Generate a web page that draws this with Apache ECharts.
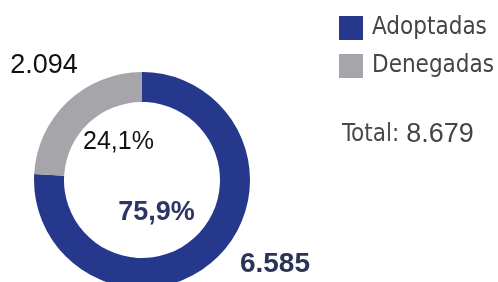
<!DOCTYPE html>
<html>
<head>
<meta charset="utf-8">
<script src="https://cdn.jsdelivr.net/npm/echarts@6/dist/echarts.min.js"></script>
<style>
  html, body { margin: 0; padding: 0; background: #fff; }
  #chart { width: 498px; height: 282px; }
</style>
</head>
<body>
<div id="chart"></div>
<script>
// data
const categories = ['Adoptadas', 'Denegadas'];
const values = [6585, 2094];
const colors = ['#25388c', '#a6a6aa'];

// label looks, one per category
const pctStyle = [
    { color: '#2d3466', fontWeight: 'bold', fontSize: 27, offset: [-15, 1] },
    { color: '#111111', fontWeight: 'normal', fontSize: 25, offset: [6, -7] }
];
const valStyle = [
    { color: '#2c3358', fontWeight: 'bold', fontSize: 28, offset: [25, -30] },
    { color: '#111111', fontWeight: 'normal', fontSize: 27, offset: [10, 0] }
];

const numFont = '"Liberation Sans", Arial, sans-serif';
const narrowFont = '"Liberation Sans Narrow", "DejaVu Sans Condensed", "Liberation Sans", sans-serif';

function fmtThousands(v) {
    return String(v).replace(/\B(?=(\d{3})+(?!\d))/g, '.');
}

const total = values.reduce((a, b) => a + b, 0);
const center = [142, 180];

const ringData = categories.map((name, i) => ({
    name: name,
    value: values[i],
    itemStyle: { color: colors[i] }
}));

const pctData = categories.map((name, i) => ({
    name: name,
    value: values[i],
    label: pctStyle[i]
}));

const valData = categories.map((name, i) => ({
    name: name,
    value: values[i],
    label: valStyle[i]
}));

const chart = echarts.init(document.getElementById('chart'));
const option = {
    animation: false,
    title: {
        text: '{a|Total: }{b|' + fmtThousands(total) + '}',
        left: 337,
        top: 114,
        textStyle: {
            fontWeight: 'normal',
            rich: {
                a: { fontFamily: narrowFont, fontSize: 24, fontWeight: 'normal', color: '#4a4a4a', lineHeight: 32 },
                b: { fontFamily: numFont, fontSize: 27, fontWeight: 'normal', color: '#444444', lineHeight: 32 }
            }
        }
    },
    legend: {
        orient: 'vertical',
        left: 339,
        top: 15,
        padding: 0,
        itemWidth: 24,
        itemHeight: 24,
        itemGap: 12,
        icon: 'rect',
        data: categories,
        selectedMode: false,
        textStyle: {
            fontFamily: narrowFont,
            fontSize: 24,
            lineHeight: 24,
            color: '#444444',
            padding: [2, 0, 0, 4]
        }
    },
    series: [
        {
            type: 'pie',
            center: center,
            radius: [78, 108],
            startAngle: 90,
            clockwise: true,
            silent: true,
            label: { show: false },
            labelLine: { show: false },
            data: ringData
        },
        {
            // percentages inside the hole
            type: 'pie',
            center: center,
            radius: [36, 44],
            startAngle: 90,
            silent: true,
            itemStyle: { color: 'rgba(0,0,0,0)' },
            label: {
                show: true,
                position: 'inside',
                fontFamily: numFont,
                formatter: p => p.percent.toFixed(1).replace('.', ',') + '%'
            },
            labelLine: { show: false },
            data: pctData
        },
        {
            // absolute values outside the ring
            type: 'pie',
            center: center,
            radius: [150, 158],
            startAngle: 90,
            silent: true,
            itemStyle: { color: 'rgba(0,0,0,0)' },
            label: {
                show: true,
                position: 'inside',
                fontFamily: numFont,
                formatter: p => fmtThousands(p.value)
            },
            labelLine: { show: false },
            data: valData
        }
    ]
};
chart.setOption(option);
</script>
</body>
</html>
